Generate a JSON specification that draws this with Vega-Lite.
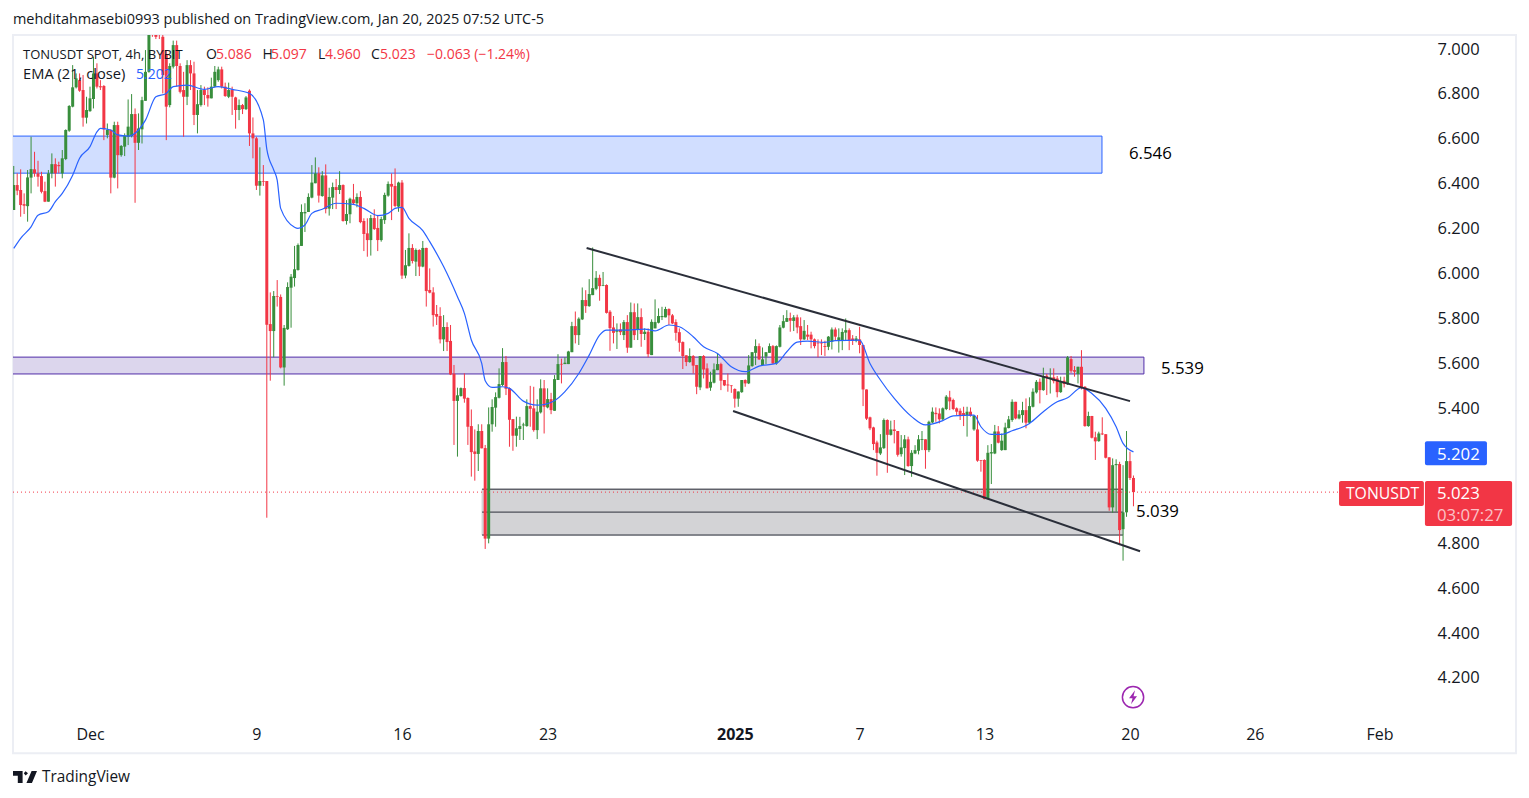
{"$schema":"https://vega.github.io/schema/vega-lite/v6.json","width":1412,"height":685,"autosize":{"type":"none"},"padding":{"left":13,"top":35,"right":104,"bottom":78},"background":"#ffffff","config":{"view":{"stroke":null},"font":"Open Sans"},
"datasets":{
"candles":[
{"t":"2024-11-27T08:00Z","o":6.279,"h":6.475,"l":6.279,"c":6.39},
{"t":"2024-11-27T12:00Z","o":6.39,"h":6.442,"l":6.345,"c":6.365},
{"t":"2024-11-27T16:00Z","o":6.368,"h":6.46,"l":6.249,"c":6.301},
{"t":"2024-11-27T20:00Z","o":6.305,"h":6.353,"l":6.261,"c":6.298},
{"t":"2024-11-28T00:00Z","o":6.296,"h":6.457,"l":6.227,"c":6.424},
{"t":"2024-11-28T04:00Z","o":6.423,"h":6.605,"l":6.353,"c":6.461},
{"t":"2024-11-28T08:00Z","o":6.46,"h":6.538,"l":6.427,"c":6.442},
{"t":"2024-11-28T12:00Z","o":6.442,"h":6.498,"l":6.383,"c":6.427},
{"t":"2024-11-28T16:00Z","o":6.43,"h":6.449,"l":6.353,"c":6.36},
{"t":"2024-11-28T20:00Z","o":6.363,"h":6.405,"l":6.314,"c":6.316},
{"t":"2024-11-29T00:00Z","o":6.316,"h":6.457,"l":6.316,"c":6.442},
{"t":"2024-11-29T04:00Z","o":6.442,"h":6.531,"l":6.42,"c":6.483},
{"t":"2024-11-29T08:00Z","o":6.483,"h":6.509,"l":6.383,"c":6.442},
{"t":"2024-11-29T12:00Z","o":6.479,"h":6.494,"l":6.442,"c":6.474},
{"t":"2024-11-29T16:00Z","o":6.442,"h":6.546,"l":6.42,"c":6.509},
{"t":"2024-11-29T20:00Z","o":6.506,"h":6.638,"l":6.501,"c":6.635},
{"t":"2024-11-30T00:00Z","o":6.632,"h":6.746,"l":6.627,"c":6.742},
{"t":"2024-11-30T04:00Z","o":6.739,"h":6.924,"l":6.736,"c":6.825},
{"t":"2024-11-30T08:00Z","o":6.825,"h":6.887,"l":6.82,"c":6.865},
{"t":"2024-11-30T12:00Z","o":6.857,"h":6.887,"l":6.805,"c":6.81},
{"t":"2024-11-30T16:00Z","o":6.813,"h":6.88,"l":6.65,"c":6.69},
{"t":"2024-11-30T20:00Z","o":6.69,"h":6.783,"l":6.664,"c":6.724},
{"t":"2024-12-01T00:00Z","o":6.719,"h":6.828,"l":6.716,"c":6.776},
{"t":"2024-12-01T04:00Z","o":6.773,"h":6.961,"l":6.731,"c":6.887},
{"t":"2024-12-01T08:00Z","o":6.887,"h":6.932,"l":6.82,"c":6.828},
{"t":"2024-12-01T12:00Z","o":6.83,"h":6.857,"l":6.813,"c":6.825},
{"t":"2024-12-01T16:00Z","o":6.831,"h":6.835,"l":6.59,"c":6.638},
{"t":"2024-12-01T20:00Z","o":6.613,"h":6.664,"l":6.598,"c":6.635},
{"t":"2024-12-02T00:00Z","o":6.635,"h":6.638,"l":6.353,"c":6.423},
{"t":"2024-12-02T04:00Z","o":6.423,"h":6.672,"l":6.42,"c":6.657},
{"t":"2024-12-02T08:00Z","o":6.657,"h":6.672,"l":6.375,"c":6.523},
{"t":"2024-12-02T12:00Z","o":6.523,"h":6.568,"l":6.516,"c":6.564},
{"t":"2024-12-02T16:00Z","o":6.561,"h":6.62,"l":6.519,"c":6.608},
{"t":"2024-12-02T20:00Z","o":6.605,"h":6.771,"l":6.568,"c":6.65},
{"t":"2024-12-03T00:00Z","o":6.608,"h":6.795,"l":6.602,"c":6.706},
{"t":"2024-12-03T04:00Z","o":6.706,"h":6.731,"l":6.311,"c":6.578},
{"t":"2024-12-03T08:00Z","o":6.578,"h":6.709,"l":6.546,"c":6.642},
{"t":"2024-12-03T12:00Z","o":6.638,"h":6.783,"l":6.575,"c":6.768},
{"t":"2024-12-03T16:00Z","o":6.765,"h":6.991,"l":6.765,"c":6.894},
{"t":"2024-12-03T20:00Z","o":6.894,"h":7.13,"l":6.89,"c":7.07},
{"t":"2024-12-04T00:00Z","o":7.1,"h":7.14,"l":7.05,"c":7.06},
{"t":"2024-12-04T04:00Z","o":7.09,"h":7.12,"l":7.04,"c":7.05},
{"t":"2024-12-04T08:00Z","o":7.09,"h":7.12,"l":7.04,"c":7.06},
{"t":"2024-12-04T12:00Z","o":7.05,"h":7.1,"l":6.798,"c":6.88},
{"t":"2024-12-04T16:00Z","o":6.969,"h":6.99,"l":6.59,"c":6.739},
{"t":"2024-12-04T20:00Z","o":6.746,"h":6.932,"l":6.736,"c":6.92},
{"t":"2024-12-05T00:00Z","o":6.917,"h":7.033,"l":6.909,"c":7.013},
{"t":"2024-12-05T04:00Z","o":7.013,"h":7.033,"l":6.828,"c":6.92},
{"t":"2024-12-05T08:00Z","o":6.92,"h":6.932,"l":6.798,"c":6.805},
{"t":"2024-12-05T12:00Z","o":6.813,"h":6.894,"l":6.605,"c":6.783},
{"t":"2024-12-05T16:00Z","o":6.783,"h":6.946,"l":6.746,"c":6.924},
{"t":"2024-12-05T20:00Z","o":6.924,"h":6.946,"l":6.813,"c":6.887},
{"t":"2024-12-06T00:00Z","o":6.887,"h":6.939,"l":6.657,"c":6.702},
{"t":"2024-12-06T04:00Z","o":6.702,"h":6.813,"l":6.62,"c":6.75},
{"t":"2024-12-06T08:00Z","o":6.746,"h":6.835,"l":6.739,"c":6.813},
{"t":"2024-12-06T12:00Z","o":6.813,"h":6.828,"l":6.746,"c":6.791},
{"t":"2024-12-06T16:00Z","o":6.791,"h":6.825,"l":6.739,"c":6.776},
{"t":"2024-12-06T20:00Z","o":6.776,"h":6.868,"l":6.776,"c":6.828},
{"t":"2024-12-07T00:00Z","o":6.828,"h":6.92,"l":6.825,"c":6.894},
{"t":"2024-12-07T04:00Z","o":6.857,"h":6.917,"l":6.85,"c":6.905},
{"t":"2024-12-07T08:00Z","o":6.905,"h":6.917,"l":6.82,"c":6.828},
{"t":"2024-12-07T12:00Z","o":6.828,"h":6.846,"l":6.783,"c":6.786},
{"t":"2024-12-07T16:00Z","o":6.783,"h":6.846,"l":6.777,"c":6.813},
{"t":"2024-12-07T20:00Z","o":6.813,"h":6.828,"l":6.702,"c":6.783},
{"t":"2024-12-08T00:00Z","o":6.78,"h":6.783,"l":6.641,"c":6.724},
{"t":"2024-12-08T04:00Z","o":6.724,"h":6.771,"l":6.679,"c":6.746},
{"t":"2024-12-08T08:00Z","o":6.746,"h":6.751,"l":6.706,"c":6.728},
{"t":"2024-12-08T12:00Z","o":6.728,"h":6.786,"l":6.724,"c":6.78},
{"t":"2024-12-08T16:00Z","o":6.81,"h":6.816,"l":6.564,"c":6.62},
{"t":"2024-12-08T20:00Z","o":6.62,"h":6.691,"l":6.509,"c":6.598},
{"t":"2024-12-09T00:00Z","o":6.598,"h":6.605,"l":6.368,"c":6.387},
{"t":"2024-12-09T04:00Z","o":6.387,"h":6.558,"l":6.343,"c":6.408},
{"t":"2024-12-09T08:00Z","o":6.408,"h":6.479,"l":6.386,"c":6.405},
{"t":"2024-12-09T12:00Z","o":6.408,"h":6.408,"l":4.909,"c":5.768},
{"t":"2024-12-09T16:00Z","o":5.771,"h":5.912,"l":5.519,"c":5.74},
{"t":"2024-12-09T20:00Z","o":5.74,"h":5.918,"l":5.623,"c":5.896},
{"t":"2024-12-10T00:00Z","o":5.896,"h":5.967,"l":5.849,"c":5.893},
{"t":"2024-12-10T04:00Z","o":5.892,"h":5.903,"l":5.574,"c":5.578},
{"t":"2024-12-10T08:00Z","o":5.578,"h":5.767,"l":5.497,"c":5.754},
{"t":"2024-12-10T12:00Z","o":5.748,"h":5.957,"l":5.745,"c":5.936},
{"t":"2024-12-10T16:00Z","o":5.933,"h":5.994,"l":5.755,"c":5.982},
{"t":"2024-12-10T20:00Z","o":5.976,"h":6.119,"l":5.938,"c":6.015},
{"t":"2024-12-11T00:00Z","o":6.012,"h":6.13,"l":6.009,"c":6.123},
{"t":"2024-12-11T04:00Z","o":6.119,"h":6.304,"l":6.119,"c":6.27},
{"t":"2024-12-11T08:00Z","o":6.264,"h":6.309,"l":6.181,"c":6.27},
{"t":"2024-12-11T12:00Z","o":6.27,"h":6.353,"l":6.27,"c":6.337},
{"t":"2024-12-11T16:00Z","o":6.334,"h":6.479,"l":6.331,"c":6.401},
{"t":"2024-12-11T20:00Z","o":6.398,"h":6.513,"l":6.398,"c":6.442},
{"t":"2024-12-12T00:00Z","o":6.442,"h":6.469,"l":6.312,"c":6.343},
{"t":"2024-12-12T04:00Z","o":6.341,"h":6.452,"l":6.338,"c":6.433},
{"t":"2024-12-12T08:00Z","o":6.433,"h":6.482,"l":6.264,"c":6.283},
{"t":"2024-12-12T12:00Z","o":6.285,"h":6.378,"l":6.254,"c":6.337},
{"t":"2024-12-12T16:00Z","o":6.334,"h":6.401,"l":6.283,"c":6.381},
{"t":"2024-12-12T20:00Z","o":6.381,"h":6.417,"l":6.283,"c":6.368},
{"t":"2024-12-13T00:00Z","o":6.368,"h":6.452,"l":6.35,"c":6.39},
{"t":"2024-12-13T04:00Z","o":6.39,"h":6.393,"l":6.227,"c":6.23},
{"t":"2024-12-13T08:00Z","o":6.23,"h":6.323,"l":6.214,"c":6.261},
{"t":"2024-12-13T12:00Z","o":6.26,"h":6.334,"l":6.22,"c":6.329},
{"t":"2024-12-13T16:00Z","o":6.326,"h":6.395,"l":6.301,"c":6.309},
{"t":"2024-12-13T20:00Z","o":6.309,"h":6.353,"l":6.291,"c":6.337},
{"t":"2024-12-14T00:00Z","o":6.337,"h":6.363,"l":6.22,"c":6.225},
{"t":"2024-12-14T04:00Z","o":6.23,"h":6.242,"l":6.096,"c":6.172},
{"t":"2024-12-14T08:00Z","o":6.175,"h":6.242,"l":6.071,"c":6.145},
{"t":"2024-12-14T12:00Z","o":6.145,"h":6.257,"l":6.076,"c":6.243},
{"t":"2024-12-14T16:00Z","o":6.243,"h":6.282,"l":6.19,"c":6.194},
{"t":"2024-12-14T20:00Z","o":6.199,"h":6.257,"l":6.096,"c":6.145},
{"t":"2024-12-15T00:00Z","o":6.145,"h":6.249,"l":6.138,"c":6.239},
{"t":"2024-12-15T04:00Z","o":6.234,"h":6.356,"l":6.217,"c":6.346},
{"t":"2024-12-15T08:00Z","o":6.343,"h":6.406,"l":6.338,"c":6.395},
{"t":"2024-12-15T12:00Z","o":6.395,"h":6.442,"l":6.234,"c":6.383},
{"t":"2024-12-15T16:00Z","o":6.386,"h":6.464,"l":6.291,"c":6.297},
{"t":"2024-12-15T20:00Z","o":6.294,"h":6.405,"l":6.271,"c":6.401},
{"t":"2024-12-16T00:00Z","o":6.401,"h":6.412,"l":5.972,"c":5.987},
{"t":"2024-12-16T04:00Z","o":5.987,"h":6.101,"l":5.975,"c":6.033},
{"t":"2024-12-16T08:00Z","o":6.03,"h":6.175,"l":6.027,"c":6.11},
{"t":"2024-12-16T12:00Z","o":6.11,"h":6.127,"l":6.041,"c":6.052},
{"t":"2024-12-16T16:00Z","o":6.049,"h":6.108,"l":5.985,"c":6.101},
{"t":"2024-12-16T20:00Z","o":6.101,"h":6.104,"l":5.985,"c":6.027},
{"t":"2024-12-17T00:00Z","o":6.027,"h":6.141,"l":6.024,"c":6.11},
{"t":"2024-12-17T04:00Z","o":6.11,"h":6.111,"l":5.849,"c":5.918},
{"t":"2024-12-17T08:00Z","o":5.923,"h":6.019,"l":5.908,"c":5.911},
{"t":"2024-12-17T12:00Z","o":5.912,"h":5.935,"l":5.76,"c":5.811},
{"t":"2024-12-17T16:00Z","o":5.816,"h":5.856,"l":5.767,"c":5.804},
{"t":"2024-12-17T20:00Z","o":5.807,"h":5.846,"l":5.685,"c":5.703},
{"t":"2024-12-18T00:00Z","o":5.703,"h":5.811,"l":5.651,"c":5.758},
{"t":"2024-12-18T04:00Z","o":5.758,"h":5.779,"l":5.651,"c":5.691},
{"t":"2024-12-18T08:00Z","o":5.696,"h":5.767,"l":5.544,"c":5.547},
{"t":"2024-12-18T12:00Z","o":5.55,"h":5.589,"l":5.233,"c":5.429},
{"t":"2024-12-18T16:00Z","o":5.429,"h":5.488,"l":5.181,"c":5.454},
{"t":"2024-12-18T20:00Z","o":5.451,"h":5.489,"l":5.448,"c":5.486},
{"t":"2024-12-19T00:00Z","o":5.486,"h":5.552,"l":5.421,"c":5.439},
{"t":"2024-12-19T04:00Z","o":5.442,"h":5.445,"l":5.233,"c":5.314},
{"t":"2024-12-19T08:00Z","o":5.317,"h":5.391,"l":5.092,"c":5.201},
{"t":"2024-12-19T12:00Z","o":5.204,"h":5.302,"l":5.074,"c":5.193},
{"t":"2024-12-19T16:00Z","o":5.193,"h":5.325,"l":5.117,"c":5.295},
{"t":"2024-12-19T20:00Z","o":5.295,"h":5.325,"l":5.218,"c":5.218},
{"t":"2024-12-20T00:00Z","o":5.219,"h":5.233,"l":4.77,"c":4.816},
{"t":"2024-12-20T04:00Z","o":4.816,"h":5.4,"l":4.795,"c":5.325},
{"t":"2024-12-20T08:00Z","o":5.325,"h":5.436,"l":5.292,"c":5.402},
{"t":"2024-12-20T12:00Z","o":5.399,"h":5.467,"l":5.314,"c":5.446},
{"t":"2024-12-20T16:00Z","o":5.443,"h":5.574,"l":5.44,"c":5.504},
{"t":"2024-12-20T20:00Z","o":5.5,"h":5.664,"l":5.495,"c":5.602},
{"t":"2024-12-21T00:00Z","o":5.602,"h":5.629,"l":5.455,"c":5.483},
{"t":"2024-12-21T04:00Z","o":5.486,"h":5.489,"l":5.225,"c":5.345},
{"t":"2024-12-21T08:00Z","o":5.348,"h":5.348,"l":5.207,"c":5.274},
{"t":"2024-12-21T12:00Z","o":5.274,"h":5.359,"l":5.225,"c":5.307},
{"t":"2024-12-21T16:00Z","o":5.304,"h":5.358,"l":5.255,"c":5.317},
{"t":"2024-12-21T20:00Z","o":5.32,"h":5.332,"l":5.255,"c":5.324},
{"t":"2024-12-22T00:00Z","o":5.317,"h":5.436,"l":5.314,"c":5.406},
{"t":"2024-12-22T04:00Z","o":5.406,"h":5.496,"l":5.314,"c":5.394},
{"t":"2024-12-22T08:00Z","o":5.396,"h":5.492,"l":5.292,"c":5.299},
{"t":"2024-12-22T12:00Z","o":5.299,"h":5.436,"l":5.259,"c":5.381},
{"t":"2024-12-22T16:00Z","o":5.378,"h":5.525,"l":5.373,"c":5.485},
{"t":"2024-12-22T20:00Z","o":5.485,"h":5.522,"l":5.284,"c":5.403},
{"t":"2024-12-23T00:00Z","o":5.4,"h":5.485,"l":5.396,"c":5.437},
{"t":"2024-12-23T04:00Z","o":5.437,"h":5.465,"l":5.37,"c":5.388},
{"t":"2024-12-23T08:00Z","o":5.385,"h":5.544,"l":5.385,"c":5.526},
{"t":"2024-12-23T12:00Z","o":5.522,"h":5.637,"l":5.522,"c":5.593},
{"t":"2024-12-23T16:00Z","o":5.594,"h":5.617,"l":5.507,"c":5.591},
{"t":"2024-12-23T20:00Z","o":5.593,"h":5.623,"l":5.593,"c":5.599},
{"t":"2024-12-24T00:00Z","o":5.593,"h":5.652,"l":5.593,"c":5.649},
{"t":"2024-12-24T04:00Z","o":5.646,"h":5.781,"l":5.646,"c":5.762},
{"t":"2024-12-24T08:00Z","o":5.762,"h":5.827,"l":5.685,"c":5.722},
{"t":"2024-12-24T12:00Z","o":5.722,"h":5.801,"l":5.678,"c":5.795},
{"t":"2024-12-24T16:00Z","o":5.792,"h":5.934,"l":5.789,"c":5.878},
{"t":"2024-12-24T20:00Z","o":5.878,"h":5.922,"l":5.821,"c":5.851},
{"t":"2024-12-25T00:00Z","o":5.851,"h":5.971,"l":5.848,"c":5.905},
{"t":"2024-12-25T04:00Z","o":5.9,"h":6.112,"l":5.9,"c":5.931},
{"t":"2024-12-25T08:00Z","o":5.928,"h":6.007,"l":5.922,"c":5.977},
{"t":"2024-12-25T12:00Z","o":5.977,"h":5.991,"l":5.875,"c":5.94},
{"t":"2024-12-25T16:00Z","o":5.942,"h":6.003,"l":5.94,"c":5.945},
{"t":"2024-12-25T20:00Z","o":5.945,"h":5.948,"l":5.818,"c":5.821},
{"t":"2024-12-26T00:00Z","o":5.826,"h":5.833,"l":5.652,"c":5.753},
{"t":"2024-12-26T04:00Z","o":5.756,"h":5.807,"l":5.685,"c":5.732},
{"t":"2024-12-26T08:00Z","o":5.737,"h":5.774,"l":5.66,"c":5.744},
{"t":"2024-12-26T12:00Z","o":5.747,"h":5.774,"l":5.722,"c":5.735},
{"t":"2024-12-26T16:00Z","o":5.722,"h":5.789,"l":5.7,"c":5.78},
{"t":"2024-12-26T20:00Z","o":5.78,"h":5.811,"l":5.643,"c":5.666},
{"t":"2024-12-27T00:00Z","o":5.666,"h":5.867,"l":5.666,"c":5.824},
{"t":"2024-12-27T04:00Z","o":5.824,"h":5.863,"l":5.7,"c":5.722},
{"t":"2024-12-27T08:00Z","o":5.747,"h":5.863,"l":5.7,"c":5.802},
{"t":"2024-12-27T12:00Z","o":5.802,"h":5.841,"l":5.67,"c":5.727},
{"t":"2024-12-27T16:00Z","o":5.727,"h":5.752,"l":5.7,"c":5.737},
{"t":"2024-12-27T20:00Z","o":5.737,"h":5.752,"l":5.623,"c":5.637},
{"t":"2024-12-28T00:00Z","o":5.633,"h":5.792,"l":5.633,"c":5.781},
{"t":"2024-12-28T04:00Z","o":5.752,"h":5.881,"l":5.752,"c":5.78},
{"t":"2024-12-28T08:00Z","o":5.777,"h":5.841,"l":5.774,"c":5.807},
{"t":"2024-12-28T12:00Z","o":5.802,"h":5.848,"l":5.789,"c":5.807},
{"t":"2024-12-28T16:00Z","o":5.801,"h":5.848,"l":5.801,"c":5.838},
{"t":"2024-12-28T20:00Z","o":5.838,"h":5.841,"l":5.767,"c":5.81},
{"t":"2024-12-29T00:00Z","o":5.81,"h":5.816,"l":5.771,"c":5.774},
{"t":"2024-12-29T04:00Z","o":5.78,"h":5.792,"l":5.697,"c":5.732},
{"t":"2024-12-29T08:00Z","o":5.735,"h":5.752,"l":5.648,"c":5.688},
{"t":"2024-12-29T12:00Z","o":5.691,"h":5.694,"l":5.571,"c":5.629},
{"t":"2024-12-29T16:00Z","o":5.632,"h":5.632,"l":5.584,"c":5.602},
{"t":"2024-12-29T20:00Z","o":5.602,"h":5.663,"l":5.599,"c":5.629},
{"t":"2024-12-30T00:00Z","o":5.629,"h":5.633,"l":5.551,"c":5.586},
{"t":"2024-12-30T04:00Z","o":5.589,"h":5.589,"l":5.459,"c":5.492},
{"t":"2024-12-30T08:00Z","o":5.489,"h":5.629,"l":5.477,"c":5.629},
{"t":"2024-12-30T12:00Z","o":5.629,"h":5.633,"l":5.529,"c":5.569},
{"t":"2024-12-30T16:00Z","o":5.574,"h":5.596,"l":5.485,"c":5.485},
{"t":"2024-12-30T20:00Z","o":5.488,"h":5.559,"l":5.474,"c":5.514},
{"t":"2024-12-31T00:00Z","o":5.51,"h":5.596,"l":5.507,"c":5.569},
{"t":"2024-12-31T04:00Z","o":5.566,"h":5.64,"l":5.566,"c":5.593},
{"t":"2024-12-31T08:00Z","o":5.593,"h":5.599,"l":5.477,"c":5.519},
{"t":"2024-12-31T12:00Z","o":5.522,"h":5.522,"l":5.495,"c":5.498},
{"t":"2024-12-31T16:00Z","o":5.502,"h":5.551,"l":5.47,"c":5.498},
{"t":"2024-12-31T20:00Z","o":5.498,"h":5.499,"l":5.465,"c":5.495},
{"t":"2025-01-01T00:00Z","o":5.482,"h":5.485,"l":5.399,"c":5.439},
{"t":"2025-01-01T04:00Z","o":5.439,"h":5.471,"l":5.403,"c":5.471},
{"t":"2025-01-01T08:00Z","o":5.468,"h":5.522,"l":5.465,"c":5.522},
{"t":"2025-01-01T12:00Z","o":5.522,"h":5.525,"l":5.492,"c":5.507},
{"t":"2025-01-01T16:00Z","o":5.507,"h":5.633,"l":5.504,"c":5.587},
{"t":"2025-01-01T20:00Z","o":5.584,"h":5.646,"l":5.581,"c":5.646},
{"t":"2025-01-02T00:00Z","o":5.643,"h":5.703,"l":5.589,"c":5.673},
{"t":"2025-01-02T04:00Z","o":5.673,"h":5.685,"l":5.611,"c":5.614},
{"t":"2025-01-02T08:00Z","o":5.589,"h":5.667,"l":5.586,"c":5.614},
{"t":"2025-01-02T12:00Z","o":5.626,"h":5.646,"l":5.593,"c":5.646},
{"t":"2025-01-02T16:00Z","o":5.643,"h":5.685,"l":5.643,"c":5.673},
{"t":"2025-01-02T20:00Z","o":5.673,"h":5.678,"l":5.593,"c":5.596},
{"t":"2025-01-03T00:00Z","o":5.596,"h":5.676,"l":5.59,"c":5.673},
{"t":"2025-01-03T04:00Z","o":5.67,"h":5.767,"l":5.667,"c":5.756},
{"t":"2025-01-03T08:00Z","o":5.755,"h":5.811,"l":5.752,"c":5.784},
{"t":"2025-01-03T12:00Z","o":5.781,"h":5.833,"l":5.781,"c":5.798},
{"t":"2025-01-03T16:00Z","o":5.798,"h":5.822,"l":5.737,"c":5.786},
{"t":"2025-01-03T20:00Z","o":5.785,"h":5.811,"l":5.74,"c":5.801},
{"t":"2025-01-04T00:00Z","o":5.801,"h":5.813,"l":5.73,"c":5.756},
{"t":"2025-01-04T04:00Z","o":5.762,"h":5.801,"l":5.678,"c":5.703},
{"t":"2025-01-04T08:00Z","o":5.703,"h":5.789,"l":5.7,"c":5.741},
{"t":"2025-01-04T12:00Z","o":5.724,"h":5.767,"l":5.7,"c":5.715},
{"t":"2025-01-04T16:00Z","o":5.724,"h":5.737,"l":5.663,"c":5.703},
{"t":"2025-01-04T20:00Z","o":5.703,"h":5.707,"l":5.663,"c":5.673},
{"t":"2025-01-05T00:00Z","o":5.688,"h":5.703,"l":5.623,"c":5.685},
{"t":"2025-01-05T04:00Z","o":5.688,"h":5.703,"l":5.633,"c":5.685},
{"t":"2025-01-05T08:00Z","o":5.673,"h":5.697,"l":5.629,"c":5.669},
{"t":"2025-01-05T12:00Z","o":5.67,"h":5.718,"l":5.655,"c":5.715},
{"t":"2025-01-05T16:00Z","o":5.692,"h":5.756,"l":5.658,"c":5.747},
{"t":"2025-01-05T20:00Z","o":5.747,"h":5.756,"l":5.697,"c":5.715},
{"t":"2025-01-06T00:00Z","o":5.697,"h":5.752,"l":5.644,"c":5.712},
{"t":"2025-01-06T04:00Z","o":5.7,"h":5.752,"l":5.655,"c":5.736},
{"t":"2025-01-06T08:00Z","o":5.733,"h":5.796,"l":5.7,"c":5.744},
{"t":"2025-01-06T12:00Z","o":5.744,"h":5.752,"l":5.655,"c":5.7},
{"t":"2025-01-06T16:00Z","o":5.707,"h":5.722,"l":5.678,"c":5.697},
{"t":"2025-01-06T20:00Z","o":5.697,"h":5.718,"l":5.69,"c":5.707},
{"t":"2025-01-07T00:00Z","o":5.703,"h":5.759,"l":5.641,"c":5.678},
{"t":"2025-01-07T04:00Z","o":5.678,"h":5.678,"l":5.406,"c":5.48},
{"t":"2025-01-07T08:00Z","o":5.48,"h":5.48,"l":5.344,"c":5.35},
{"t":"2025-01-07T12:00Z","o":5.356,"h":5.359,"l":5.299,"c":5.307},
{"t":"2025-01-07T16:00Z","o":5.311,"h":5.314,"l":5.21,"c":5.237},
{"t":"2025-01-07T20:00Z","o":5.244,"h":5.252,"l":5.096,"c":5.198},
{"t":"2025-01-08T00:00Z","o":5.195,"h":5.281,"l":5.188,"c":5.222},
{"t":"2025-01-08T04:00Z","o":5.219,"h":5.351,"l":5.215,"c":5.344},
{"t":"2025-01-08T08:00Z","o":5.344,"h":5.347,"l":5.109,"c":5.278},
{"t":"2025-01-08T12:00Z","o":5.278,"h":5.341,"l":5.275,"c":5.302},
{"t":"2025-01-08T16:00Z","o":5.302,"h":5.344,"l":5.24,"c":5.295},
{"t":"2025-01-08T20:00Z","o":5.295,"h":5.295,"l":5.181,"c":5.189},
{"t":"2025-01-09T00:00Z","o":5.192,"h":5.277,"l":5.181,"c":5.222},
{"t":"2025-01-09T04:00Z","o":5.219,"h":5.277,"l":5.099,"c":5.258},
{"t":"2025-01-09T08:00Z","o":5.258,"h":5.27,"l":5.136,"c":5.139},
{"t":"2025-01-09T12:00Z","o":5.139,"h":5.21,"l":5.091,"c":5.198},
{"t":"2025-01-09T16:00Z","o":5.195,"h":5.232,"l":5.192,"c":5.21},
{"t":"2025-01-09T20:00Z","o":5.207,"h":5.277,"l":5.191,"c":5.258},
{"t":"2025-01-10T00:00Z","o":5.255,"h":5.295,"l":5.21,"c":5.259},
{"t":"2025-01-10T04:00Z","o":5.258,"h":5.258,"l":5.127,"c":5.21},
{"t":"2025-01-10T08:00Z","o":5.21,"h":5.341,"l":5.201,"c":5.336},
{"t":"2025-01-10T12:00Z","o":5.333,"h":5.4,"l":5.329,"c":5.381},
{"t":"2025-01-10T16:00Z","o":5.376,"h":5.4,"l":5.336,"c":5.37},
{"t":"2025-01-10T20:00Z","o":5.373,"h":5.396,"l":5.329,"c":5.347},
{"t":"2025-01-11T00:00Z","o":5.347,"h":5.4,"l":5.344,"c":5.396},
{"t":"2025-01-11T04:00Z","o":5.393,"h":5.455,"l":5.388,"c":5.448},
{"t":"2025-01-11T08:00Z","o":5.445,"h":5.474,"l":5.388,"c":5.427},
{"t":"2025-01-11T12:00Z","o":5.433,"h":5.439,"l":5.388,"c":5.393},
{"t":"2025-01-11T16:00Z","o":5.396,"h":5.4,"l":5.366,"c":5.381},
{"t":"2025-01-11T20:00Z","o":5.385,"h":5.396,"l":5.344,"c":5.366},
{"t":"2025-01-12T00:00Z","o":5.375,"h":5.403,"l":5.317,"c":5.365},
{"t":"2025-01-12T04:00Z","o":5.366,"h":5.403,"l":5.27,"c":5.381},
{"t":"2025-01-12T08:00Z","o":5.381,"h":5.4,"l":5.359,"c":5.363},
{"t":"2025-01-12T12:00Z","o":5.302,"h":5.366,"l":5.296,"c":5.362},
{"t":"2025-01-12T16:00Z","o":5.302,"h":5.366,"l":5.158,"c":5.163},
{"t":"2025-01-12T20:00Z","o":5.166,"h":5.166,"l":5.114,"c":5.163},
{"t":"2025-01-13T00:00Z","o":5.166,"h":5.169,"l":4.991,"c":4.992},
{"t":"2025-01-13T04:00Z","o":4.992,"h":5.232,"l":4.991,"c":5.198},
{"t":"2025-01-13T08:00Z","o":5.195,"h":5.237,"l":5.059,"c":5.201},
{"t":"2025-01-13T12:00Z","o":5.195,"h":5.322,"l":5.192,"c":5.293},
{"t":"2025-01-13T16:00Z","o":5.293,"h":5.317,"l":5.24,"c":5.243},
{"t":"2025-01-13T20:00Z","o":5.21,"h":5.284,"l":5.207,"c":5.252},
{"t":"2025-01-14T00:00Z","o":5.21,"h":5.332,"l":5.21,"c":5.311},
{"t":"2025-01-14T04:00Z","o":5.308,"h":5.362,"l":5.307,"c":5.347},
{"t":"2025-01-14T08:00Z","o":5.344,"h":5.436,"l":5.336,"c":5.425},
{"t":"2025-01-14T12:00Z","o":5.425,"h":5.425,"l":5.347,"c":5.351},
{"t":"2025-01-14T16:00Z","o":5.351,"h":5.388,"l":5.347,"c":5.369},
{"t":"2025-01-14T20:00Z","o":5.366,"h":5.425,"l":5.332,"c":5.388},
{"t":"2025-01-15T00:00Z","o":5.388,"h":5.44,"l":5.307,"c":5.332},
{"t":"2025-01-15T04:00Z","o":5.332,"h":5.445,"l":5.326,"c":5.406},
{"t":"2025-01-15T08:00Z","o":5.403,"h":5.485,"l":5.4,"c":5.47},
{"t":"2025-01-15T12:00Z","o":5.467,"h":5.522,"l":5.462,"c":5.514},
{"t":"2025-01-15T16:00Z","o":5.514,"h":5.529,"l":5.418,"c":5.477},
{"t":"2025-01-15T20:00Z","o":5.477,"h":5.577,"l":5.474,"c":5.54},
{"t":"2025-01-16T00:00Z","o":5.541,"h":5.549,"l":5.455,"c":5.534},
{"t":"2025-01-16T04:00Z","o":5.528,"h":5.574,"l":5.462,"c":5.534},
{"t":"2025-01-16T08:00Z","o":5.534,"h":5.574,"l":5.507,"c":5.517},
{"t":"2025-01-16T12:00Z","o":5.529,"h":5.54,"l":5.445,"c":5.468},
{"t":"2025-01-16T16:00Z","o":5.468,"h":5.537,"l":5.465,"c":5.514},
{"t":"2025-01-16T20:00Z","o":5.519,"h":5.537,"l":5.489,"c":5.504},
{"t":"2025-01-17T00:00Z","o":5.503,"h":5.629,"l":5.5,"c":5.623},
{"t":"2025-01-17T04:00Z","o":5.615,"h":5.629,"l":5.554,"c":5.563},
{"t":"2025-01-17T08:00Z","o":5.566,"h":5.584,"l":5.537,"c":5.559},
{"t":"2025-01-17T12:00Z","o":5.549,"h":5.581,"l":5.507,"c":5.581},
{"t":"2025-01-17T16:00Z","o":5.581,"h":5.655,"l":5.48,"c":5.488},
{"t":"2025-01-17T20:00Z","o":5.492,"h":5.495,"l":5.314,"c":5.317},
{"t":"2025-01-18T00:00Z","o":5.317,"h":5.381,"l":5.314,"c":5.362},
{"t":"2025-01-18T04:00Z","o":5.362,"h":5.362,"l":5.262,"c":5.265},
{"t":"2025-01-18T08:00Z","o":5.267,"h":5.292,"l":5.166,"c":5.249},
{"t":"2025-01-18T12:00Z","o":5.25,"h":5.292,"l":5.247,"c":5.284},
{"t":"2025-01-18T16:00Z","o":5.284,"h":5.356,"l":5.277,"c":5.28},
{"t":"2025-01-18T20:00Z","o":5.281,"h":5.281,"l":5.173,"c":5.176},
{"t":"2025-01-19T00:00Z","o":5.178,"h":5.178,"l":4.94,"c":4.955},
{"t":"2025-01-19T04:00Z","o":4.955,"h":5.173,"l":4.931,"c":5.143},
{"t":"2025-01-19T08:00Z","o":5.143,"h":5.169,"l":4.936,"c":5.148},
{"t":"2025-01-19T12:00Z","o":5.148,"h":5.158,"l":4.787,"c":4.854},
{"t":"2025-01-19T16:00Z","o":4.858,"h":5.143,"l":4.718,"c":4.933},
{"t":"2025-01-19T20:00Z","o":4.933,"h":5.295,"l":4.913,"c":5.161},
{"t":"2025-01-20T00:00Z","o":5.161,"h":5.203,"l":5.077,"c":5.086},
{"t":"2025-01-20T04:00Z","o":5.086,"h":5.097,"l":4.96,"c":5.023}
],
"ema":[
{"t":"2024-11-27T08:00Z","v":6.108},{"t":"2024-11-27T16:00Z","v":6.153},{"t":"2024-11-28T04:00Z","v":6.204},{"t":"2024-11-28T12:00Z","v":6.256},{"t":"2024-11-29T00:00Z","v":6.271},{"t":"2024-11-29T08:00Z","v":6.316},{"t":"2024-11-29T16:00Z","v":6.353},{"t":"2024-11-30T04:00Z","v":6.434},{"t":"2024-11-30T12:00Z","v":6.509},{"t":"2024-12-01T00:00Z","v":6.561},{"t":"2024-12-01T08:00Z","v":6.627},{"t":"2024-12-01T12:00Z","v":6.642},{"t":"2024-12-02T00:00Z","v":6.635},{"t":"2024-12-02T08:00Z","v":6.613},{"t":"2024-12-02T20:00Z","v":6.608},{"t":"2024-12-03T08:00Z","v":6.635},{"t":"2024-12-03T16:00Z","v":6.679},{"t":"2024-12-04T04:00Z","v":6.783},{"t":"2024-12-04T16:00Z","v":6.798},{"t":"2024-12-05T00:00Z","v":6.828},{"t":"2024-12-05T16:00Z","v":6.835},{"t":"2024-12-06T12:00Z","v":6.816},{"t":"2024-12-07T04:00Z","v":6.828},{"t":"2024-12-07T20:00Z","v":6.816},{"t":"2024-12-08T16:00Z","v":6.798},{"t":"2024-12-09T08:00Z","v":6.68},{"t":"2024-12-09T12:00Z","v":6.55},{"t":"2024-12-09T20:00Z","v":6.457},{"t":"2024-12-10T00:00Z","v":6.412},{"t":"2024-12-10T04:00Z","v":6.286},{"t":"2024-12-10T20:00Z","v":6.202},{"t":"2024-12-11T00:00Z","v":6.197},{"t":"2024-12-11T08:00Z","v":6.212},{"t":"2024-12-11T16:00Z","v":6.264},{"t":"2024-12-12T04:00Z","v":6.282},{"t":"2024-12-12T20:00Z","v":6.309},{"t":"2024-12-13T16:00Z","v":6.304},{"t":"2024-12-14T04:00Z","v":6.286},{"t":"2024-12-14T20:00Z","v":6.254},{"t":"2024-12-15T08:00Z","v":6.264},{"t":"2024-12-15T16:00Z","v":6.286},{"t":"2024-12-16T00:00Z","v":6.291},{"t":"2024-12-16T08:00Z","v":6.242},{"t":"2024-12-17T00:00Z","v":6.187},{"t":"2024-12-17T08:00Z","v":6.138},{"t":"2024-12-18T00:00Z","v":6.027},{"t":"2024-12-18T16:00Z","v":5.893},{"t":"2024-12-19T00:00Z","v":5.819},{"t":"2024-12-19T08:00Z","v":5.7},{"t":"2024-12-19T20:00Z","v":5.596},{"t":"2024-12-20T00:00Z","v":5.519},{"t":"2024-12-20T08:00Z","v":5.489},{"t":"2024-12-20T20:00Z","v":5.492},{"t":"2024-12-21T04:00Z","v":5.485},{"t":"2024-12-21T20:00Z","v":5.428},{"t":"2024-12-22T12:00Z","v":5.41},{"t":"2024-12-23T08:00Z","v":5.43},{"t":"2024-12-23T20:00Z","v":5.47},{"t":"2024-12-24T12:00Z","v":5.551},{"t":"2024-12-25T00:00Z","v":5.633},{"t":"2024-12-25T12:00Z","v":5.722},{"t":"2024-12-25T20:00Z","v":5.744},{"t":"2024-12-26T16:00Z","v":5.744},{"t":"2024-12-27T16:00Z","v":5.749},{"t":"2024-12-28T04:00Z","v":5.741},{"t":"2024-12-28T20:00Z","v":5.767},{"t":"2024-12-29T08:00Z","v":5.759},{"t":"2024-12-30T00:00Z","v":5.715},{"t":"2024-12-30T12:00Z","v":5.67},{"t":"2024-12-31T04:00Z","v":5.64},{"t":"2024-12-31T20:00Z","v":5.581},{"t":"2025-01-01T12:00Z","v":5.559},{"t":"2025-01-02T04:00Z","v":5.584},{"t":"2025-01-03T00:00Z","v":5.596},{"t":"2025-01-03T12:00Z","v":5.648},{"t":"2025-01-04T00:00Z","v":5.691},{"t":"2025-01-04T12:00Z","v":5.695},{"t":"2025-01-05T08:00Z","v":5.69},{"t":"2025-01-05T20:00Z","v":5.697},{"t":"2025-01-07T00:00Z","v":5.7},{"t":"2025-01-07T12:00Z","v":5.596},{"t":"2025-01-08T00:00Z","v":5.522},{"t":"2025-01-08T16:00Z","v":5.44},{"t":"2025-01-09T12:00Z","v":5.359},{"t":"2025-01-10T04:00Z","v":5.322},{"t":"2025-01-11T00:00Z","v":5.341},{"t":"2025-01-11T12:00Z","v":5.362},{"t":"2025-01-12T12:00Z","v":5.366},{"t":"2025-01-12T20:00Z","v":5.314},{"t":"2025-01-13T08:00Z","v":5.28},{"t":"2025-01-13T20:00Z","v":5.28},{"t":"2025-01-14T08:00Z","v":5.296},{"t":"2025-01-15T04:00Z","v":5.329},{"t":"2025-01-15T20:00Z","v":5.381},{"t":"2025-01-16T12:00Z","v":5.425},{"t":"2025-01-17T00:00Z","v":5.443},{"t":"2025-01-17T16:00Z","v":5.488},{"t":"2025-01-18T04:00Z","v":5.462},{"t":"2025-01-18T20:00Z","v":5.396},{"t":"2025-01-19T08:00Z","v":5.314},{"t":"2025-01-19T16:00Z","v":5.24},{"t":"2025-01-20T04:00Z","v":5.202}
],
"trend":[
{"t":"2024-12-24T21:00Z","p":6.11,"n":"upper"},{"t":"2025-01-20T00:00Z","p":5.428,"n":"upper"},
{"t":"2024-12-31T22:00Z","p":5.384,"n":"lower"},{"t":"2025-01-20T11:36Z","p":4.76,"n":"lower"}
],
"zones":[
{"t":"2024-11-25T00:00Z","t2":"2025-01-18T15:40Z","p":6.608,"p2":6.443,"z":"resistance"},
{"t":"2024-11-25T00:00Z","t2":"2025-01-20T16:05Z","p":5.624,"p2":5.549,"z":"pivot"},
{"t":"2024-12-19T20:23Z","t2":"2025-01-19T15:53Z","p":5.036,"p2":4.832,"z":"support"}
],
"supportLines":[
{"t":"2024-12-19T20:23Z","t2":"2025-01-19T15:53Z","p":5.036},
{"t":"2024-12-19T20:23Z","t2":"2025-01-19T15:53Z","p":4.934},
{"t":"2024-12-19T20:23Z","t2":"2025-01-19T15:53Z","p":4.832}
],
"frame":[{"t":"2024-11-27T07:09Z","t2":"2025-02-07T13:26Z","p":7.058,"p2":3.861}],
"last":[{"t":"2024-11-27T07:09Z","t2":"2025-01-30T01:12Z","p":5.023}],
"tags":[
{"t":"2025-02-03T04:19Z","t2":"2025-02-06T03:53Z","p":5.25,"p2":5.143,"k":"ema"},
{"t":"2025-01-30T01:12Z","t2":"2025-02-03T03:07Z","p":5.072,"p2":4.961,"k":"price"},
{"t":"2025-02-03T04:19Z","t2":"2025-02-07T08:53Z","p":5.072,"p2":4.872,"k":"price"}
],
"labels16":[
{"t":"2025-01-19T22:50Z","p":6.527,"s":"6.546","k":"note","g":"number"},
{"t":"2025-01-21T11:46Z","p":5.57,"s":"5.539","k":"note","g":"number"},
{"t":"2025-01-20T06:58Z","p":4.934,"s":"5.039","k":"note","g":"number"},
{"t":"2025-02-03T18:14Z","p":5.19,"s":"5.202","k":"tag","g":"number"},
{"t":"2025-02-03T18:14Z","p":5.014,"s":"5.023","k":"tag","g":"number"},
{"t":"2025-02-03T18:14Z","p":4.915,"s":"03:07:27","k":"dim","g":"number"},
{"t":"2025-01-30T09:07Z","p":5.014,"s":"TONUSDT","k":"tag","g":"word"}
],
"labels14":[
{"t":"2024-11-27T07:09Z","p":7.125,"s":"mehditahmasebi0993 published on TradingView.com, Jan 20, 2025 07:52 UTC-5","k":"dark","g":"header"},
{"t":"2024-11-27T18:42Z","p":6.968,"s":"TONUSDT SPOT, 4h, BYBIT","k":"dark","g":"caps"},
{"t":"2024-12-06T13:51Z","p":6.968,"s":"O","k":"dark","g":"value"},
{"t":"2024-12-07T01:23Z","p":6.968,"s":"5.086","k":"red","g":"value"},
{"t":"2024-12-09T07:02Z","p":6.968,"s":"H","k":"dark","g":"value"},
{"t":"2024-12-09T16:51Z","p":6.968,"s":"5.097","k":"red","g":"value"},
{"t":"2024-12-11T23:02Z","p":6.968,"s":"L","k":"dark","g":"value"},
{"t":"2024-12-12T07:12Z","p":6.968,"s":"4.960","k":"red","g":"value"},
{"t":"2024-12-14T12:14Z","p":6.968,"s":"C","k":"dark","g":"value"},
{"t":"2024-12-14T22:34Z","p":6.968,"s":"5.023","k":"red","g":"value"},
{"t":"2024-12-17T04:48Z","p":6.968,"s":"−0.063 (−1.24%)","k":"red","g":"value"},
{"t":"2024-11-27T18:42Z","p":6.88,"s":"EMA (21, close)","k":"dark","g":"ema"},
{"t":"2024-12-03T05:05Z","p":6.88,"s":"5.202","k":"blue","g":"value"},
{"t":"2024-11-28T16:37Z","p":3.755,"s":"TradingView","k":"dark","g":"brand"}
],
"logo":[{"t":"2024-11-27T21:00Z","p":3.755}],
"icon":[{"t":"2025-01-20T03:30Z","p":4.11}]
},
"encoding":{"x":{"field":"t","type":"temporal","scale":{"type":"utc","domain":[1732691347200,1738556611200]},"axis":{"title":null,"grid":false,"domain":false,"ticks":false,"labelPadding":6,"labelFontSize":16,"labelColor":"#131722","labelOverlap":false,"labelFlush":false,"values":[1733011200000,1733702400000,1734307200000,1734912000000,1735689600000,1736208000000,1736726400000,1737331200000,1737849600000,1738368000000],"labelExpr":"utcdate(datum.value)==1 ? (utcmonth(datum.value)==11 ? 'Dec' : utcmonth(datum.value)==0 ? '2025' : 'Feb') : ''+utcdate(datum.value)","labelFontWeight":{"condition":{"test":"utcmonth(datum.value)==0 && utcdate(datum.value)==1","value":"bold"},"value":"normal"}}}},
"resolve":{"scale":{"fill":"independent","stroke":"independent","color":"independent","size":"independent"}},
"layer":[
{"data":{"name":"frame"},"mark":{"type":"rect","fill":null,"stroke":"#eceef4","strokeWidth":2,"clip":false},"encoding":{"x2":{"field":"t2"},"y":{"field":"p","type":"quantitative","scale":{"domain":[4.0085,7.058],"nice":false,"zero":false},"axis":{"orient":"right","title":null,"grid":false,"domain":false,"ticks":false,"labelAlign":"left","labelPadding":12,"labelOffset":1,"labelFontSize":16.5,"labelColor":"#131722","labelOverlap":false,"values":[4.2,4.4,4.6,4.8,5.4,5.6,5.8,6,6.2,6.4,6.6,6.8,7],"format":".3f"}},"y2":{"field":"p2"}}},
{"data":{"name":"zones"},"mark":{"type":"rect","clip":true,"strokeWidth":1},"encoding":{"x2":{"field":"t2"},"y":{"field":"p","type":"quantitative","scale":{"domain":[4.0085,7.058],"nice":false,"zero":false}},"y2":{"field":"p2"},"fill":{"field":"z","type":"nominal","legend":null,"scale":{"domain":["resistance","pivot","support"],"range":["#d1deff","#dcd6ed","#d3d3d6"]}},"stroke":{"field":"z","type":"nominal","legend":null,"scale":{"domain":["resistance","pivot","support"],"range":["#2962ff","#512da8","#d3d3d6"]}}}},
{"data":{"name":"supportLines"},"mark":{"type":"rule","color":"#2a2e39","strokeWidth":1},"encoding":{"x2":{"field":"t2"},"y":{"field":"p","type":"quantitative","scale":{"domain":[4.0085,7.058],"nice":false,"zero":false}}}},
{"data":{"name":"candles"},"mark":{"type":"rule","strokeWidth":1,"clip":true},"encoding":{"y":{"field":"l","type":"quantitative","scale":{"domain":[4.0085,7.058],"nice":false,"zero":false}},"y2":{"field":"h"},"color":{"condition":{"test":"datum.c>=datum.o","value":"#388e3c"},"value":"#f23645"}}},
{"data":{"name":"candles"},"mark":{"type":"rule","strokeWidth":3,"strokeCap":"butt","clip":true},"encoding":{"y":{"field":"o","type":"quantitative","scale":{"domain":[4.0085,7.058],"nice":false,"zero":false}},"y2":{"field":"c"},"color":{"condition":{"test":"datum.c>=datum.o","value":"#388e3c"},"value":"#f23645"}}},
{"data":{"name":"last"},"mark":{"type":"rule","color":"#f23645","strokeWidth":1,"strokeDash":[1,3]},"encoding":{"x2":{"field":"t2"},"y":{"field":"p","type":"quantitative","scale":{"domain":[4.0085,7.058],"nice":false,"zero":false}}}},
{"data":{"name":"ema"},"mark":{"type":"line","color":"#2962ff","strokeWidth":1.2,"interpolate":"monotone","clip":true},"encoding":{"y":{"field":"v","type":"quantitative","scale":{"domain":[4.0085,7.058],"nice":false,"zero":false}}}},
{"data":{"name":"trend"},"mark":{"type":"line","color":"#2a2e39","strokeWidth":2},"encoding":{"y":{"field":"p","type":"quantitative","scale":{"domain":[4.0085,7.058],"nice":false,"zero":false}},"detail":{"field":"n"}}},
{"data":{"name":"tags"},"mark":{"type":"rect","cornerRadius":2},"encoding":{"x2":{"field":"t2"},"y":{"field":"p","type":"quantitative","scale":{"domain":[4.0085,7.058],"nice":false,"zero":false}},"y2":{"field":"p2"},"fill":{"field":"k","type":"nominal","legend":null,"scale":{"domain":["ema","price"],"range":["#2962ff","#f23645"]}}}},
{"data":{"name":"labels14"},"mark":{"type":"text","align":"left","baseline":"middle","font":"Open Sans"},"encoding":{"y":{"field":"p","type":"quantitative","scale":{"domain":[4.0085,7.058],"nice":false,"zero":false}},"text":{"field":"s"},"size":{"field":"g","type":"ordinal","legend":null,"scale":{"type":"ordinal","domain":["header","caps","value","ema","brand"],"range":[14.45,13,14,14.7,15.4]}},"color":{"field":"k","type":"nominal","legend":null,"scale":{"domain":["dark","red","blue"],"range":["#131722","#f23645","#2962ff"]}}}},
{"data":{"name":"labels16"},"mark":{"type":"text","align":"left","baseline":"middle","font":"Open Sans"},"encoding":{"y":{"field":"p","type":"quantitative","scale":{"domain":[4.0085,7.058],"nice":false,"zero":false}},"text":{"field":"s"},"size":{"field":"g","type":"ordinal","legend":null,"scale":{"type":"ordinal","domain":["number","word"],"range":[16.8,15.8]}},"color":{"field":"k","type":"nominal","legend":null,"scale":{"domain":["note","tag","dim"],"range":["#000000","#ffffff","#fbc2c7"]}}}},
{"data":{"name":"logo"},"mark":{"type":"point","filled":true,"opacity":1,"color":"#131722","size":576,"shape":"M-1 -0.5H-0.2V0.5H-0.6V-0.1H-1ZM-0.1 -0.3L0.05 -0.47L0.25 -0.3L0.05 -0.13ZM0.55 -0.5H1L0.58 0.5H0.12Z"},"encoding":{"y":{"field":"p","type":"quantitative","scale":{"domain":[4.0085,7.058],"nice":false,"zero":false}}}},
{"data":{"name":"icon"},"mark":{"type":"point","shape":"circle","filled":false,"color":"#9c27b0","strokeWidth":1.5,"size":452,"opacity":1},"encoding":{"y":{"field":"p","type":"quantitative","scale":{"domain":[4.0085,7.058],"nice":false,"zero":false}}}},
{"data":{"name":"icon"},"mark":{"type":"point","filled":true,"color":"#9c27b0","opacity":1,"size":400,"shape":"M0.2 -0.7L-0.4 0.1H-0.05L-0.2 0.7L0.4 -0.1H0.05Z"},"encoding":{"y":{"field":"p","type":"quantitative","scale":{"domain":[4.0085,7.058],"nice":false,"zero":false}}}}
]}
